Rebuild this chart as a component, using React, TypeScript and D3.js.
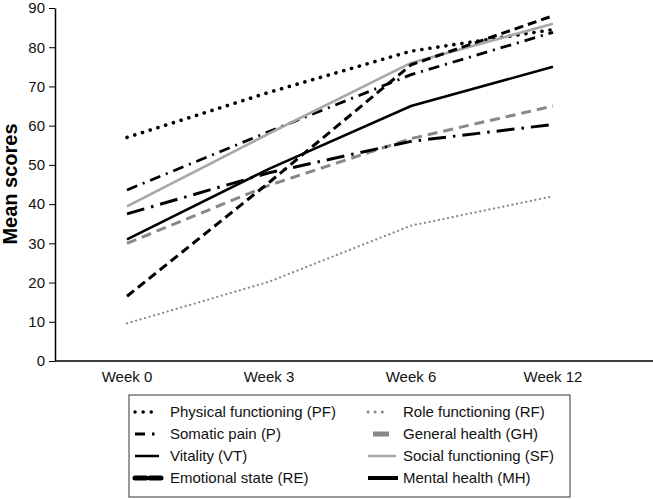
import { useEffect, useRef } from 'react';
import * as d3 from 'd3';

const weeks = ['Week 0', 'Week 3', 'Week 6', 'Week 12'];
const yTicks = [0, 10, 20, 30, 40, 50, 60, 70, 80, 90];

const pf = [57, 68.5, 79, 84.5];
const rf = [9.6, 20.2, 34.5, 42];
const sp = [43.6, 58.5, 73, 83.8];
const gh = [30, 44.8, 56.7, 65];
const vt = [37.5, 48, 56, 60.3];
const sf = [39.4, 58, 76, 86];
const re = [16.5, 45.5, 75.5, 88];
const mh = [31, 49, 65, 75];

// style for each line: chart line + legend position
const seriesList = [
  { name: 'Physical functioning (PF)', values: pf, color: '#000', width: 3.6, dash: '0.1 8', cap: 'round', col: 0, row: 0 },
  { name: 'Role functioning (RF)', values: rf, color: '#888', width: 2.2, dash: '0.1 4.6', cap: 'round', col: 1, row: 0 },
  { name: 'Somatic pain (P)', values: sp, color: '#000', width: 2.8, dash: '11 6 2 6', cap: 'butt', col: 0, row: 1 },
  { name: 'General health (GH)', values: gh, color: '#888', width: 3, dash: '10 6', cap: 'butt', col: 1, row: 1 },
  { name: 'Vitality (VT)', values: vt, color: '#000', width: 3, dash: '18 7 2.5 7', cap: 'butt', col: 0, row: 2 },
  { name: 'Social functioning (SF)', values: sf, color: '#a8a8a8', width: 2.6, dash: null, cap: 'butt', col: 1, row: 2 },
  { name: 'Emotional state (RE)', values: re, color: '#000', width: 3, dash: '9 5', cap: 'butt', col: 0, row: 3 },
  { name: 'Mental health (MH)', values: mh, color: '#000', width: 2.6, dash: null, cap: 'butt', col: 1, row: 3 },
];

// legend marker drawing per series
const legendMarks = [
  { dash: '0.1 8', width: 3.4, cap: 'round', len: 20 },
  { dash: '0.1 7', width: 3, cap: 'round', len: 20 },
  { dash: '10 7 2.5 20', width: 3, cap: 'butt', len: 22 },
  { dash: null, width: 5, cap: 'butt', len: 16 },
  { dash: null, width: 2.5, cap: 'butt', len: 24 },
  { dash: null, width: 2.5, cap: 'butt', len: 28 },
  { dash: '11 4', width: 5, cap: 'round', len: 26 },
  { dash: null, width: 4, cap: 'butt', len: 30 },
];

const font = '"Liberation Sans", Arial, sans-serif';

export default function App() {
  const ref = useRef<SVGSVGElement>(null);

  useEffect(() => {
    const svg = d3.select(ref.current);
    svg.selectAll('*').remove();

    const x = d3.scaleBand().domain(weeks).range([56, 624]);
    const y = d3.scaleLinear().domain([0, 90]).range([361, 8]);

    // y axis
    const yAxis = d3.axisLeft(y).tickValues(yTicks).tickSize(6).tickSizeOuter(0).tickPadding(4);
    const gy = svg.append('g').attr('transform', 'translate(55,0)').call(yAxis);
    gy.select('.domain').attr('stroke', '#000').attr('stroke-width', 1.5);
    gy.selectAll('.tick line').attr('stroke', '#000').attr('stroke-width', 1);
    gy.selectAll('.tick text').attr('font-size', 15).attr('font-family', font).attr('fill', '#111');

    // x axis
    const xAxis = d3.axisBottom(x).tickSize(0).tickSizeOuter(0).tickPadding(10);
    const gx = svg.append('g').attr('transform', 'translate(0,361)').call(xAxis);
    gx.select('.domain').remove();
    gx.append('line').attr('x1', 55).attr('x2', 653).attr('stroke', '#000').attr('stroke-width', 1.5);
    gx.selectAll('.tick text').attr('font-size', 15).attr('font-family', font).attr('fill', '#111');

    svg.append('text')
      .attr('transform', 'translate(17,184) rotate(-90)')
      .attr('text-anchor', 'middle')
      .attr('font-family', font)
      .attr('font-weight', 'bold')
      .attr('font-size', 20)
      .text('Mean scores');

    const line = d3.line<number>()
      .x((_, i) => (x(weeks[i]) as number) + x.bandwidth() / 2)
      .y((d) => y(d));

    seriesList.forEach((s) => {
      svg.append('path')
        .attr('d', line(s.values))
        .attr('fill', 'none')
        .attr('stroke', s.color)
        .attr('stroke-width', s.width)
        .attr('stroke-dasharray', s.dash)
        .attr('stroke-linecap', s.cap);
    });

    // legend
    const lg = svg.append('g');
    lg.append('rect')
      .attr('x', 129).attr('y', 395).attr('width', 441).attr('height', 102)
      .attr('fill', 'none').attr('stroke', '#333').attr('stroke-width', 1);

    const colMark = [135, 368];
    const colText = [170, 403];
    seriesList.forEach((s, i) => {
      const m = legendMarks[i];
      const cy = 412 + s.row * 22;
      const x0 = colMark[s.col] + (i === 3 ? 5 : 0);
      lg.append('line')
        .attr('x1', x0).attr('x2', x0 + m.len)
        .attr('y1', cy).attr('y2', cy)
        .attr('stroke', s.color)
        .attr('stroke-width', m.width)
        .attr('stroke-dasharray', m.dash)
        .attr('stroke-linecap', m.cap);
      lg.append('text')
        .attr('x', colText[s.col]).attr('y', cy)
        .attr('dy', '0.35em')
        .attr('font-family', font)
        .attr('font-size', 15)
        .attr('fill', '#111')
        .text(s.name);
    });
  }, []);

  return (
    <svg ref={ref} width={653} height={499} style={{ position: 'absolute', left: 0, top: 0, background: '#fff' }} />
  );
}
